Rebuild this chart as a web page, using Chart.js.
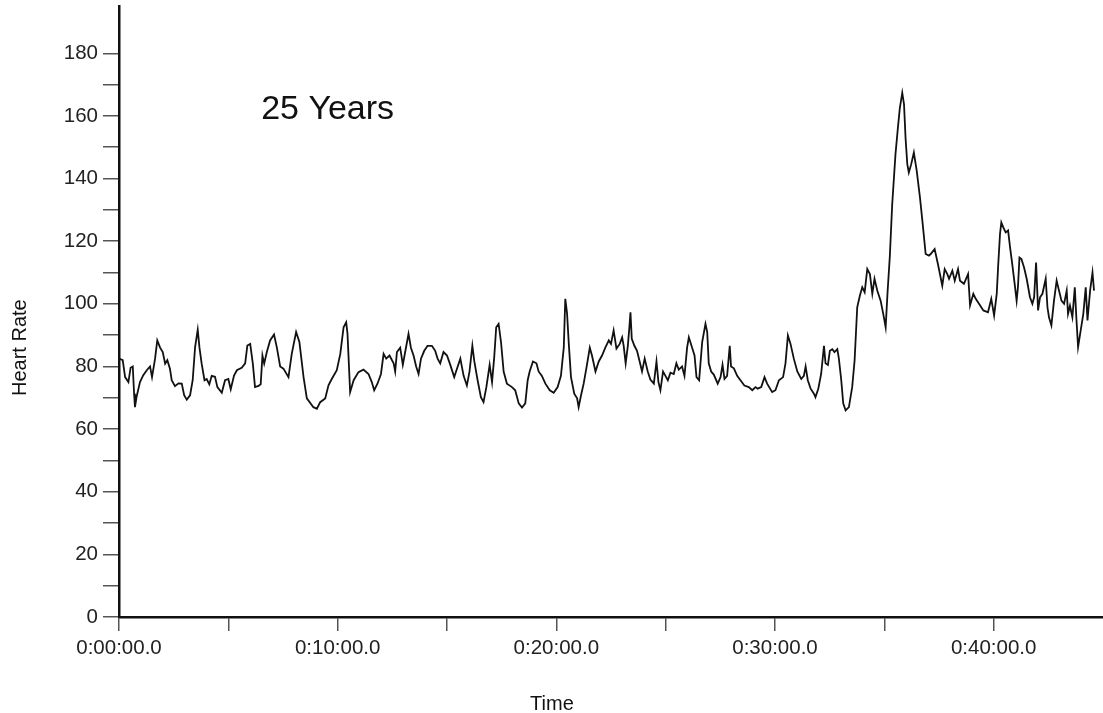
<!DOCTYPE html>
<html>
<head>
<meta charset="utf-8">
<script src="https://cdn.jsdelivr.net/npm/chart.js@4.4.1/dist/chart.umd.min.js"></script>
<style>
  html, body { margin: 0; padding: 0; background: #fff; overflow: hidden; }
  #wrap { width: 1103px; height: 713px; overflow: hidden; position: relative; }
  #c { position: absolute; left: 0; top: -11px; }
</style>
</head>
<body>
<div id="wrap"><canvas id="c" width="1103" height="724"></canvas></div>
<script>
// Time in minutes
const timeMin = [
  0, 0.17, 0.28, 0.43, 0.53, 0.63, 0.69, 0.73, 0.81, 0.96, 1.11, 1.27, 1.42, 1.51, 1.65, 1.75, 1.88, 2.00, 2.11, 2.21,
  2.33, 2.41, 2.56, 2.72, 2.87, 2.98, 3.10, 3.25, 3.37, 3.48, 3.60, 3.68, 3.78, 3.91, 4.01, 4.13, 4.24, 4.39, 4.50, 4.70,
  4.85, 5.00, 5.11, 5.26, 5.39, 5.61, 5.77, 5.87, 6.00, 6.12, 6.22, 6.38, 6.48, 6.56, 6.64, 6.76, 6.91, 7.09, 7.22, 7.37,
  7.52, 7.75, 7.90, 8.10, 8.25, 8.44, 8.59, 8.89, 9.05, 9.20, 9.43, 9.58, 9.73, 9.96, 10.12, 10.27, 10.39, 10.45, 10.57, 10.73,
  10.95, 11.18, 11.41, 11.56, 11.67, 11.82, 11.98, 12.10, 12.22, 12.37, 12.56, 12.63, 12.71, 12.86, 12.98, 13.11, 13.24, 13.35, 13.47, 13.59,
  13.70, 13.81, 13.96, 14.11, 14.31, 14.46, 14.57, 14.69, 14.84, 15.00, 15.15, 15.33, 15.49, 15.61, 15.76, 15.91, 16.03, 16.16, 16.25, 16.40,
  16.55, 16.67, 16.80, 16.95, 17.06, 17.16, 17.25, 17.36, 17.47, 17.59, 17.74, 17.97, 18.12, 18.28, 18.43, 18.58, 18.69, 18.78, 18.93, 19.09,
  19.19, 19.34, 19.50, 19.70, 19.88, 20.06, 20.21, 20.34, 20.41, 20.49, 20.57, 20.67, 20.82, 20.95, 21.02, 21.13, 21.25, 21.40, 21.53, 21.63,
  21.79, 21.94, 22.09, 22.24, 22.40, 22.50, 22.62, 22.75, 22.90, 23.01, 23.08, 23.17, 23.27, 23.34, 23.39, 23.45, 23.57, 23.69, 23.81, 23.92,
  24.04, 24.18, 24.30, 24.46, 24.58, 24.67, 24.76, 24.88, 24.99, 25.10, 25.22, 25.37, 25.49, 25.60, 25.75, 25.86, 25.98, 26.06, 26.21, 26.32,
  26.41, 26.53, 26.67, 26.82, 26.90, 26.97, 27.08, 27.20, 27.38, 27.51, 27.60, 27.69, 27.81, 27.93, 27.99, 28.12, 28.27, 28.42, 28.60, 28.80,
  28.96, 29.11, 29.21, 29.37, 29.52, 29.64, 29.87, 30.02, 30.18, 30.37, 30.48, 30.59, 30.71, 30.86, 31.02, 31.20, 31.32, 31.40, 31.50, 31.63,
  31.78, 31.85, 31.98, 32.11, 32.24, 32.31, 32.42, 32.51, 32.62, 32.72, 32.85, 32.92, 33.03, 33.12, 33.23, 33.38, 33.53, 33.64, 33.76, 33.88,
  33.99, 34.10, 34.22, 34.34, 34.45, 34.55, 34.68, 34.83, 34.95, 35.06, 35.15, 35.25, 35.36, 35.51, 35.62, 35.71, 35.82, 35.90, 35.97, 36.05,
  36.12, 36.23, 36.35, 36.48, 36.63, 36.74, 36.89, 37.04, 37.12, 37.30, 37.45, 37.65, 37.76, 37.88, 37.96, 38.11, 38.22, 38.37, 38.46, 38.64,
  38.83, 38.92, 39.07, 39.18, 39.33, 39.53, 39.74, 39.89, 40.02, 40.14, 40.21, 40.29, 40.35, 40.44, 40.55, 40.66, 40.75, 40.85, 40.96, 41.05,
  41.11, 41.18, 41.27, 41.39, 41.51, 41.66, 41.77, 41.85, 41.94, 42.03, 42.12, 42.23, 42.38, 42.46, 42.53, 42.64, 42.76, 42.88, 42.99, 43.10,
  43.22, 43.34, 43.40, 43.49, 43.60, 43.71, 43.78, 43.86, 43.98, 44.10, 44.21, 44.29, 44.41, 44.52, 44.59
];

const heartRate = [
  82.5, 82, 76.6, 75, 79.6, 80, 71.3, 67, 70.5, 75, 77.2, 78.8, 80, 76.6, 82.5, 88.3, 86, 84.6, 80.9, 82,
  79.3, 75.6, 73.7, 74.6, 74.5, 70.8, 69.4, 70.8, 75.6, 86.2, 91.7, 86, 80.9, 75.6, 76, 74.3, 77, 76.7, 73.4, 71.6,
  75.6, 76, 72.7, 77.1, 78.8, 79.6, 81, 86.7, 87.2, 80.9, 73.4, 73.8, 74.3, 83.5, 80.9, 84.6, 88.3, 90.2, 86, 80,
  79.3, 76.6, 84, 91, 87.8, 76.6, 69.8, 67, 66.5, 68.6, 69.8, 74, 76, 78.8, 84, 92.5, 94.1, 90.4, 71.8, 75.6,
  78.2, 79, 77.6, 75, 72.4, 74.5, 77.6, 84, 82.5, 83.5, 81, 78.4, 84.6, 86, 80.5, 85.5, 90.4, 86, 83.5, 80,
  77.6, 82.5, 85, 86.6, 86.6, 85, 82.5, 81, 84.6, 83.5, 80.5, 76.6, 80, 82.5, 77, 73.9, 78.4, 86.6, 81.6, 75.6,
  70.2, 68.6, 73.4, 80.5, 75, 83, 92.5, 93.6, 87.8, 78.4, 74.5, 73.4, 72.4, 68.2, 66.9, 68.2, 75.6, 78.4, 81.6, 81,
  78.4, 77, 74.5, 72.4, 71.6, 73.4, 77, 86, 101.6, 97, 87.2, 76.6, 71.3, 69.8, 67, 70.8, 74.5, 80.5, 86, 83.5,
  78.4, 81.6, 83.5, 86, 88.3, 87.2, 91.5, 85.7, 87.2, 89.3, 86.6, 81, 86.6, 92.5, 97.3, 88.8, 86.6, 85, 81.6, 78.4,
  82.5, 78.4, 75.8, 74.5, 81.6, 75, 72.4, 78.4, 77, 75.6, 78, 77.6, 81, 79, 80, 77, 86, 89.3, 86, 83.5,
  76.6, 75.6, 87.8, 93.6, 91, 81, 78.4, 77.4, 74.5, 76.6, 80.5, 76, 77, 86.6, 80, 79.4, 77, 75.6, 73.9, 73.4,
  72.4, 73.4, 72.9, 73.4, 76.6, 74.5, 71.8, 72.4, 75.6, 76.6, 81, 89.9, 87.2, 82.5, 78.4, 76, 77, 80, 75.6, 72.9,
  71.3, 70.2, 72.9, 77.6, 86.6, 81, 80.5, 85, 85.5, 84.6, 85.5, 82.6, 75.6, 68.2, 66, 67, 73.4, 81.9, 98.9, 102.6,
  105.3, 103.7, 111.1, 109.5, 103.2, 108, 104.2, 101, 96.8, 92.5, 104, 115, 131.8, 147.8, 156.2, 162.6, 167.4, 163.7, 153, 144.6,
  141.9, 144.6, 148.3, 142.5, 133.9, 126.5, 115.9, 115.4, 115.9, 117.5, 112.7, 105.8, 111.1, 109.5, 108, 110.6, 107.4, 111.1, 107.4, 106.4,
  109.5, 99.5, 103.2, 101.6, 100, 97.9, 97.3, 101.6, 96.3, 103.2, 112.7, 122.3, 126, 124.4, 122.8, 123.4, 118, 112.7, 106.4, 101,
  105.3, 114.8, 114.3, 111.6, 108, 102.1, 100, 102.1, 113.2, 97.9, 102.1, 103.2, 108, 98.9, 95.7, 93.1, 101, 107.4, 104.2, 101,
  100, 104.2, 96.8, 99.4, 95.7, 105.3, 95.7, 86.2, 91.5, 96.8, 105.3, 94.7, 104.2, 110, 104.2
];

const xLabelEvery = 10;   // minutes between labelled x ticks
const yLabelEvery = 20;   // bpm between labelled y ticks
const annotationText = "25 Years";
const yTitle = "Heart Rate";
const xTitle = "Time";

function fmtTime(m) {
  const mm = String(Math.round(m)).padStart(2, '0');
  return '0:' + mm + ':00.0';
}

const points = timeMin.map((t, i) => ({ x: t, y: heartRate[i] }));

const FONT = "'Liberation Sans', Arial, Helvetica, sans-serif";

const textPlugin = {
  id: 'texts',
  afterDraw(chart) {
    const ctx = chart.ctx;
    const xs = chart.scales.x, ys = chart.scales.y;
    ctx.save();
    ctx.fillStyle = '#111';
    // annotation
    ctx.font = '34px ' + FONT;
    ctx.textAlign = 'left';
    ctx.textBaseline = 'alphabetic';
    ctx.fillText(annotationText, xs.getPixelForValue(6.5), ys.getPixelForValue(159));
    // x title
    ctx.font = '20px ' + FONT;
    ctx.textAlign = 'center';
    ctx.fillText(xTitle, xs.getPixelForValue(19.8), xs.bottom - 3);
    // y title
    ctx.translate(ys.left + 26, ys.getPixelForValue(86));
    ctx.rotate(-Math.PI / 2);
    ctx.textAlign = 'center';
    ctx.textBaseline = 'alphabetic';
    ctx.fillText(yTitle, 0, 0);
    ctx.restore();
  }
};

new Chart(document.getElementById('c'), {
  type: 'line',
  data: {
    datasets: [{
      data: points,
      borderColor: '#111',
      borderWidth: 1.8,
      pointRadius: 0,
      tension: 0,
      fill: false
    }]
  },
  options: {
    responsive: false,
    animation: false,
    layout: { padding: { top: 0, right: -6, left: 0, bottom: 0 } },
    plugins: { legend: { display: false }, tooltip: { enabled: false } },
    scales: {
      x: {
        type: 'linear',
        min: 0,
        max: 45,
        afterFit(s) { s.height = 96; },
        afterBuildTicks(s) { s.ticks = s.ticks.filter(t => Math.abs(t.value % 5) < 1e-6 && t.value < 45); },
        border: { display: true, color: '#111', width: 2.5 },
        grid: { drawOnChartArea: false, drawTicks: true, tickLength: 14, color: '#555', lineWidth: 1.5 },
        ticks: {
          stepSize: 5,
          autoSkip: false,
          maxRotation: 0,
          padding: 5,
          color: '#222',
          font: { family: FONT, size: 20.5 },
          callback: v => (v % xLabelEvery === 0 ? fmtTime(v) : '')
        }
      },
      y: {
        type: 'linear',
        min: 0,
        max: 195,
        afterFit(s) { s.width = 119; },
        afterBuildTicks(s) { s.ticks = s.ticks.filter(t => Math.abs(t.value % 10) < 1e-6); },
        border: { display: true, color: '#111', width: 2.5 },
        grid: { drawOnChartArea: false, drawTicks: true, tickLength: 16, color: '#555', lineWidth: 1.5 },
        ticks: {
          stepSize: 10,
          autoSkip: false,
          padding: 5,
          color: '#222',
          font: { family: FONT, size: 20.5 },
          callback: v => (v % yLabelEvery === 0 ? String(v) : '')
        }
      }
    }
  },
  plugins: [textPlugin]
});
</script>
</body>
</html>
